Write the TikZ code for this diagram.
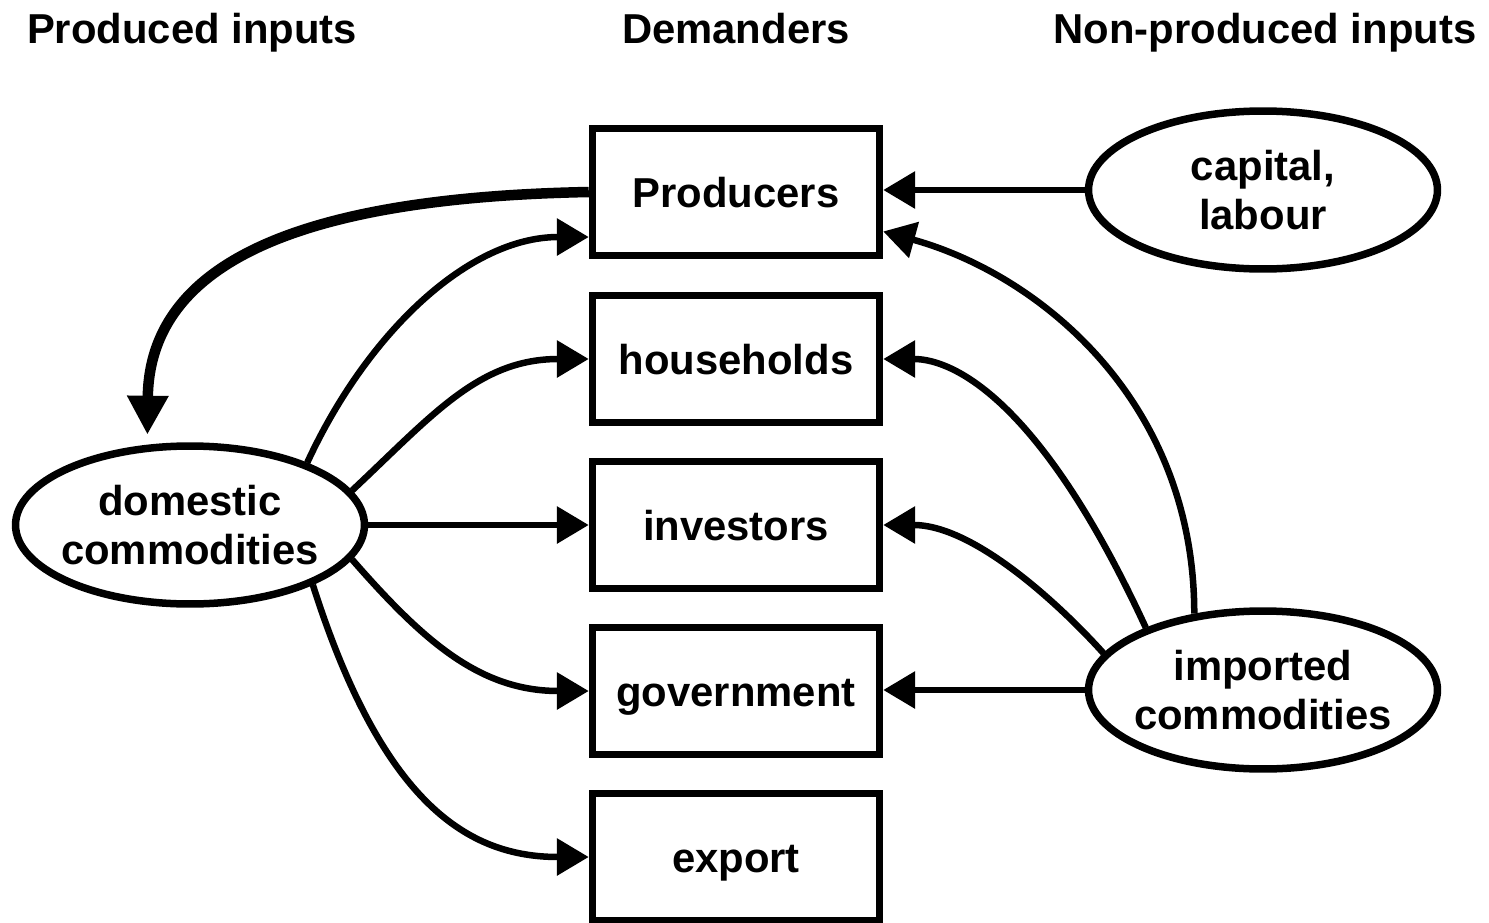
\documentclass[tikz,border=0pt]{standalone}
\usepackage{fontspec}
\setmainfont{Liberation Sans}
\usetikzlibrary{arrows.meta,shapes.geometric}

\begin{document}
\begin{tikzpicture}[x=0.02cm, y=-0.02cm,
		every node/.style={font=\fontsize{23.8}{27.4}\selectfont\bfseries},
		demander/.style={draw, line width=0.15cm, minimum width=5.74cm, minimum height=2.54cm, inner sep=0pt, text height=0.6cm, text depth=0pt},
		source/.style={draw, ellipse, line width=0.15cm, minimum width=6.98cm, minimum height=3.16cm, inner xsep=-0.12cm, inner ysep=0pt, align=center},
		flow/.style={line width=0.13cm, -{Triangle[length=0.64cm, width=0.72cm]}},
		mainflow/.style={line width=0.21cm, shorten >=0.2cm, -{Triangle[length=0.78cm, width=0.78cm]}}]
	\useasboundingbox (0, 0) rectangle (1489, 923);
	\node[anchor=base] (hdprod) at (192, 43) {Produced inputs};
	\node[anchor=base] (hddem) at (736, 43) {Demanders};
	\node[anchor=base] (hdnon) at (1265, 43) {Non-produced inputs};
	\node[demander] (prod) at (736, 192) {Producers};
	\node[demander] (hh) at (736, 359) {households};
	\node[demander] (inv) at (736, 525) {investors};
	\node[demander] (gov) at (736, 691) {government};
	\node[demander] (exp) at (736, 857) {export};
	\node[source] (dom) at (190, 525) {domestic\\commodities};
	\node[source] (cap) at (1263, 190) {capital,\\labour};
	\node[source] (imp) at (1263, 690) {imported\\commodities};
	\draw[mainflow] (prod.west) .. controls +(-258, 5) and +(2, -195) .. (dom.118);
	\draw[flow] (dom.28) .. controls +(60, -130) and +(-120, 0) .. (prod.197);
	\draw[flow] (dom.12) .. controls +(80, -75) and +(-110, 0) .. (hh.west);
	\draw[flow] (dom.east) -- (inv.west);
	\draw[flow] (dom.-12) .. controls +(70, 80) and +(-110, 0) .. (gov.west);
	\draw[flow] (dom.-26) .. controls +(70, 220) and +(-120, 0) .. (exp.west);
	\draw[flow] (cap.west) -- (cap.west -| prod.east);
	\draw[flow] (imp.132) .. controls +(0, -213) and +(156, 43) .. (prod.-15);
	\draw[flow] (imp.152) .. controls +(-120, -260) and +(50, 0) .. (hh.east);
	\draw[flow] (imp.167) .. controls +(-45, -50) and +(90, 0) .. (inv.east);
	\draw[flow] (imp.west) -- (imp.west -| gov.east);
\end{tikzpicture}
\end{document}
